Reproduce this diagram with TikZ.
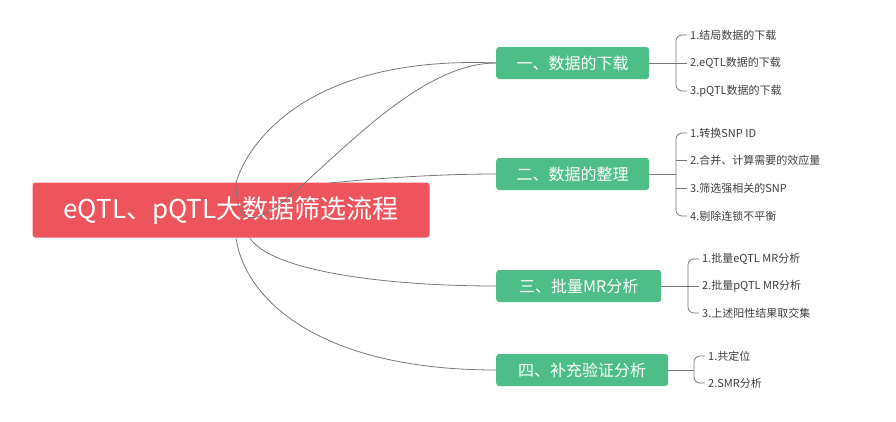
\documentclass[tikz,border=0pt]{standalone}
\usepackage{fontspec}
\setmainfont{Noto Sans CJK SC}
\usetikzlibrary{positioning,calc}
\definecolor{rootred}{RGB}{238,84,92}
\definecolor{branchgreen}{RGB}{78,190,137}
\definecolor{linegray}{RGB}{120,120,120}
\tikzset{
  rootbox/.style={fill=rootred, rounded corners=3pt, text=white, minimum width=397pt, minimum height=55pt, font=\fontsize{26}{30}\selectfont},
  branchbox/.style={fill=branchgreen, rounded corners=3pt, text=white, minimum height=32pt, font=\fontsize{16}{19}\selectfont, anchor=west},
  leaf/.style={anchor=west, inner sep=0pt, text=black!75, font=\fontsize{11}{13}\selectfont},
  link/.style={draw=linegray, line width=0.8pt},
}
\begin{document}
\begin{tikzpicture}[x=1pt, y=-1pt]
    \useasboundingbox[fill=white] (0,0) rectangle (896,421);

    % Root
    \node[rootbox] (root) at (231,210) {eQTL、pQTL大数据筛选流程};

    % Branches
    \node[branchbox, minimum width=153pt] (b1) at (496,63) {一、数据的下载};
    \node[branchbox, minimum width=153pt] (b2) at (496,174) {二、数据的整理};
    \node[branchbox, minimum width=165pt] (b3) at (496,286) {三、批量MR分析};
    \node[branchbox, minimum width=172pt] (b4) at (496,370) {四、补充验证分析};

    % Curves from root
    \coordinate (r1) at (236,183);
    \coordinate (r2) at (330,183);
    \coordinate (r3) at (250,238);
    \coordinate (r4) at (236,238);
    \draw[link] (r1) to[out=-90, in=180, looseness=1.1] (b1.west);
    \draw[link] (r1) .. controls (245,150) and (300,55) .. (b1.west);
    \draw[link] (r2) .. controls (380,178) and (440,174) .. (b2.west);
    \draw[link] (r3) .. controls (270,270) and (380,286) .. (b3.west);
    \draw[link] (r4) .. controls (245,300) and (320,370) .. (b4.west);

    % Leaves
    \node[leaf] (l11) at (690,35) {1.结局数据的下载};
    \node[leaf] (l12) at (690,63) {2.eQTL数据的下载};
    \node[leaf] (l13) at (690,91) {3.pQTL数据的下载};
    \node[leaf] (l21) at (690,133) {1.转换SNP ID};
    \node[leaf] (l22) at (690,160) {2.合并、计算需要的效应量};
    \node[leaf] (l23) at (690,188) {3.筛选强相关的SNP};
    \node[leaf] (l24) at (690,216) {4.剔除连锁不平衡};
    \node[leaf] (l31) at (702,259) {1.批量eQTL MR分析};
    \node[leaf] (l32) at (702,286) {2.批量pQTL MR分析};
    \node[leaf] (l33) at (702,313) {3.上述阳性结果取交集};
    \node[leaf] (l41) at (708,356) {1.共定位};
    \node[leaf] (l42) at (708,383) {2.SMR分析};

    % Brackets
    \foreach \b/\top/\bot/\x in {b1/l11/l13/676, b2/l21/l24/676, b3/l31/l33/688, b4/l41/l42/694} {
        \draw[link] (\b.east) -- (\x,0 |- \b.east);
        \draw[link, rounded corners=6pt] ($(\top.west)+(-3,0)$) -| (\x,0 |- \b.east) |- ($(\bot.west)+(-3,0)$);
    }
    \draw[link] (676,63) -- ($(l12.west)+(-3,0)$);
    \draw[link] (676,160) -- ($(l22.west)+(-3,0)$);
    \draw[link] (676,188) -- ($(l23.west)+(-3,0)$);
    \draw[link] (688,286) -- ($(l32.west)+(-3,0)$);
\end{tikzpicture}
\end{document}
